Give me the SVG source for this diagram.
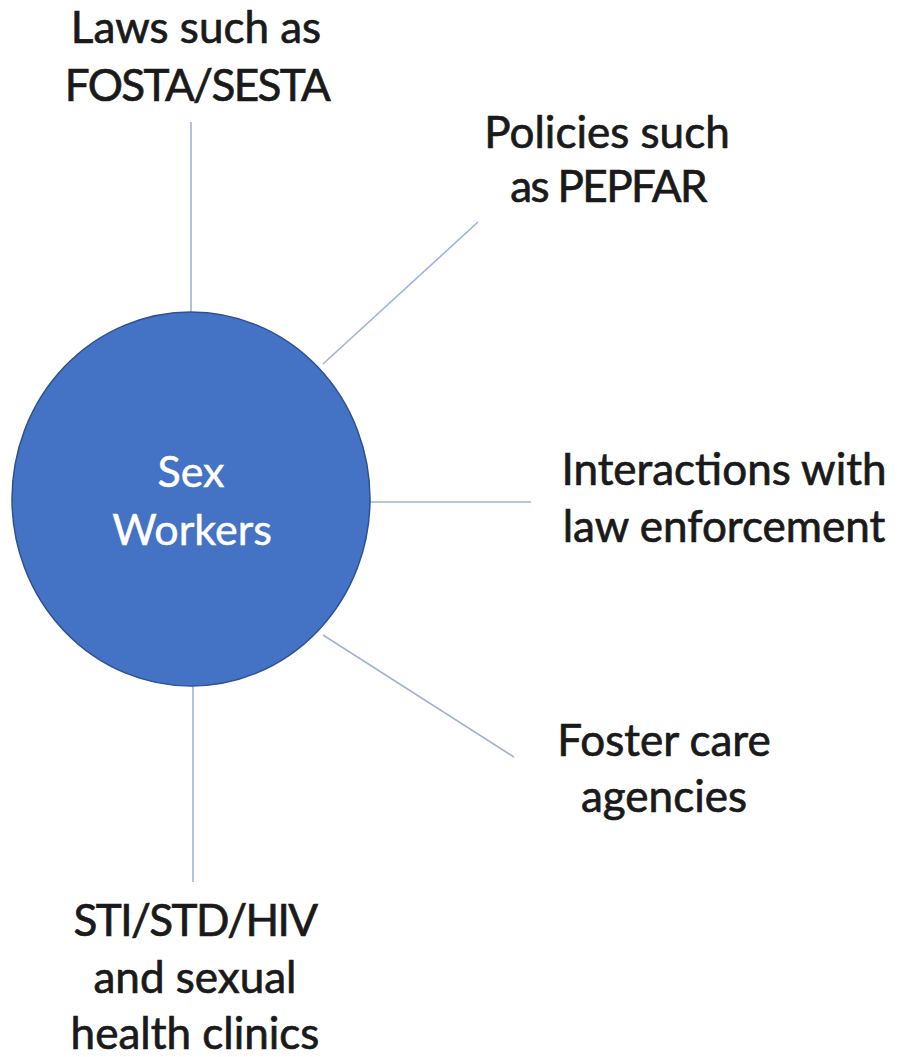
<svg xmlns="http://www.w3.org/2000/svg" width="899" height="1057" viewBox="0 0 899 1057">
  <style>
    .lbl { font-family: Lato, "Open Sans", "Liberation Sans", sans-serif; font-size: 44px; fill: #1a1a1a; stroke: #1a1a1a; stroke-width: 0.7; text-anchor: middle; }
    .caps { letter-spacing: -1.6px; }
    .hub { font-family: Lato, "Open Sans", "Liberation Sans", sans-serif; font-size: 43px; fill: #ffffff; stroke: #ffffff; stroke-width: 0.5; text-anchor: middle; }
    .link { stroke: #9fb2dc; stroke-width: 1.6; fill: none; }
  </style>
  <rect width="899" height="1057" fill="#ffffff"/>

  <!-- spokes from the central circle -->
  <g id="connectors">
    <line class="link" x1="191" y1="122" x2="191" y2="312"/>
    <line class="link" x1="478" y1="222" x2="323" y2="364"/>
    <line class="link" x1="370" y1="502" x2="531" y2="502"/>
    <line class="link" x1="323" y1="635" x2="514" y2="757"/>
    <line class="link" x1="193" y1="686" x2="193" y2="882"/>
  </g>

  <g id="sex-workers">
    <ellipse cx="191" cy="499" rx="179" ry="187" fill="#4472c4" stroke="#2f528f" stroke-width="1.5"/>
    <text class="hub" x="191" y="487">Sex</text>
    <text class="hub" x="192" y="545">Workers</text>
  </g>

  <g id="laws">
    <text class="lbl" x="196" y="43">Laws such as</text>
    <text class="lbl caps" x="197" y="101">FOSTA/SESTA</text>
  </g>

  <g id="policies">
    <text class="lbl" x="607" y="148">Policies such</text>
    <text class="lbl caps" x="608" y="202">as PEPFAR</text>
  </g>

  <g id="law-enforcement">
    <text class="lbl" x="724" y="485">Interactions with</text>
    <text class="lbl" x="724" y="542">law enforcement</text>
  </g>

  <g id="foster-care">
    <text class="lbl" x="664" y="756">Foster care</text>
    <text class="lbl" x="664" y="812">agencies</text>
  </g>

  <g id="clinics">
    <text class="lbl caps" x="195" y="936">STI/STD/HIV</text>
    <text class="lbl" x="195" y="993">and sexual</text>
    <text class="lbl" x="195" y="1049">health clinics</text>
  </g>
</svg>
